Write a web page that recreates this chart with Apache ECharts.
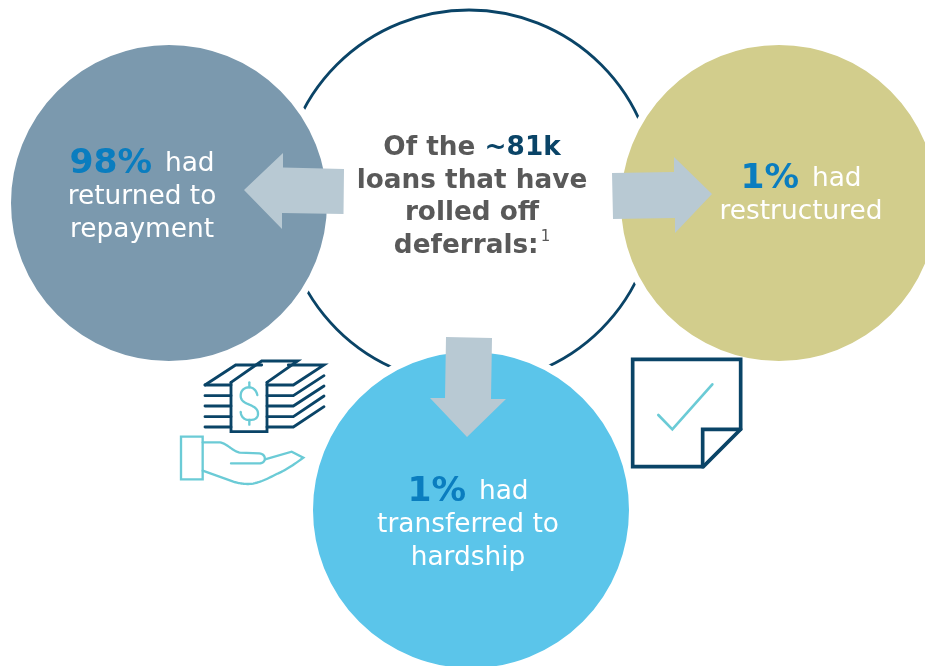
<!DOCTYPE html>
<html>
<head>
<meta charset="utf-8">
<style>html,body{margin:0;padding:0;background:#fff}#c{width:925px;height:666px}</style>
<script src="https://cdn.jsdelivr.net/npm/echarts@6/dist/echarts.min.js"></script>
</head>
<body>
<div id="c"></div>
<script>
// --- data ---
const outcomes = ['returned to repayment', 'restructured', 'transferred to hardship'];
const outcomeShares = [98, 1, 1];
const outcomeLines = [['had'], ['had'], ['had']];
const outcomeRest = [['returned to', 'repayment'], ['restructured'], ['transferred to', 'hardship']];
const totalLoans = '~81k';

// --- layout (canvas pixels on hidden axes) ---
const ringCentre = [469, 197];
const circleCentres = [[169, 203], [779, 203], [471, 510]];
const circleColours = ['#7b99ae', '#d2cd8c', '#5bc5ea'];
const textCentres = [[142, 197], [801, 196], [468, 525]];
const NAVY = '#0a4467', TEAL = '#6bcbd6', ARROW = '#b8c9d3', ACCENT = '#0a7dbf', GREY = '#595959';
const FONT = '"DejaVu Sans", Verdana, sans-serif';

const arrowLeft = [[244,190],[283,153],[283,167.5],[344,169],[343.5,214],[282,213],[282,229]];
const arrowRight = [[612,173],[674,172],[674,157],[712,194],[675,233],[675,218],[613,219]];
const arrowDown = [[446,337],[492,338],[491,399],[506,399],[467,437],[430,398],[445,398]];

const outcomeLabels = outcomes.map((name, i) => ({
  name,
  value: textCentres[i],
  label: {
    show: true, position: 'inside', align: 'center', verticalAlign: 'middle', opacity: 1,
    formatter: '{pct|' + outcomeShares[i] + '%}{sp| }{w|' + outcomeLines[i][0] + '}\n' +
      outcomeRest[i].map(t => '{w|' + t + '}').join('\n'),
    rich: {
      pct: { fontFamily: FONT, fontWeight: 'bold', fontSize: 34.5, color: ACCENT, lineHeight: 33 },
      sp: { fontFamily: FONT, fontSize: 12, width: 13, lineHeight: 33 },
      w: { fontFamily: FONT, fontSize: 26.4, color: '#fff', lineHeight: 33 }
    }
  }
}));

const moneyNavy = [
  'M105 105 L197 45 L275 45', 'M105 105 L183 105',
  'M183 97 L275 33 L383 33 L291 97', 'M183 97 L183 245 L291 245 L291 97',
  'M291 105 L370 105 L462 45 L355 45',
  'M105 137 L183 137', 'M291 137 L370 137 L462 77',
  'M105 168 L183 168', 'M291 168 L370 168 L462 108',
  'M105 200 L183 200', 'M291 200 L370 200 L462 138',
  'M105 231 L183 231', 'M291 231 L370 231 L462 170'
];
const moneyTeal = [
  'M262 135 C258 118 247 112 238 112 C222 112 212 122 212 137 C212 152 224 158 238 164 C252 170 264 176 264 191 C264 206 252 210 238 210 C226 210 214 204 212 186',
  'M238 97 L238 112', 'M238 210 L238 224',
  'M33 260 L98 260 L98 388 L33 388 Z',
  'M98 277 L150 277 C170 280 190 305 210 308 L268 310 C290 312 290 340 268 340 L183 340',
  'M285 328 L365 305 L400 323 C370 345 345 362 320 372 C290 388 260 402 235 402 C215 402 200 398 190 395 L98 362'
];
const docNavy = [
  'M38 28 L362 28 L362 238 L250 350 L38 350 Z',
  'M248 350 L248 238 L362 238'
];
const docTeal = ['M115 195 L157 238 L277 103'];

// flatten a small M/L/C/Z outline into polyline points
function flatten(d) {
  const t = d.match(/[MLCZ]|-?[\d.]+/g);
  const pts = [];
  let i = 0, closed = false;
  while (i < t.length) {
    const c = t[i++];
    if (c === 'M' || c === 'L') { pts.push([+t[i], +t[i + 1]]); i += 2; }
    else if (c === 'C') {
      const p0 = pts[pts.length - 1];
      const a = [+t[i], +t[i + 1]], b = [+t[i + 2], +t[i + 3]], e = [+t[i + 4], +t[i + 5]];
      i += 6;
      for (let k = 1; k <= 16; k++) {
        const u = k / 16, v = 1 - u;
        pts.push([0, 1].map(j => v*v*v*p0[j] + 3*v*v*u*a[j] + 3*v*u*u*b[j] + u*u*u*e[j]));
      }
    } else if (c === 'Z') { closed = true; }
  }
  return { pts, closed };
}
const pathEl = (d, color, lw, z) => {
  const f = flatten(d);
  return {
    type: f.closed ? 'polygon' : 'polyline', z,
    shape: { points: f.pts },
    style: { fill: null, stroke: color, lineWidth: lw, lineJoin: 'miter', lineCap: 'round' }
  };
};
const arrowEl = pts => ({
  type: 'polygon', z: 10, shape: { points: pts }, style: { fill: ARROW }
});

const chart = echarts.init(document.getElementById('c'));
chart.setOption({
  animation: false,
  backgroundColor: '#fff',
  grid: { left: 0, right: 0, top: 0, bottom: 0 },
  xAxis: { type: 'value', min: 0, max: 925, show: false },
  yAxis: { type: 'value', min: 0, max: 666, inverse: true, show: false },
  series: [
    {
      type: 'scatter', z: 1, silent: true,
      symbol: 'circle', symbolSize: 374,
      itemStyle: { color: '#fff', opacity: 1, borderColor: NAVY, borderWidth: 2.8 },
      data: [ringCentre]
    },
    {
      type: 'scatter', z: 2, silent: true,
      symbol: 'circle', symbolSize: 323,
      itemStyle: { opacity: 1, borderColor: '#fff', borderWidth: 7 },
      data: circleCentres.map((c, i) => ({ name: outcomes[i], value: c, itemStyle: { color: circleColours[i] } }))
    },
    {
      type: 'scatter', z: 5, silent: true,
      symbolSize: 1, itemStyle: { color: 'transparent', opacity: 1 },
      data: outcomeLabels
    },
    {
      type: 'scatter', z: 5, silent: true,
      symbolSize: 1, itemStyle: { color: 'transparent', opacity: 1 },
      data: [{
        value: [472, 197],
        label: {
          show: true, position: 'inside', align: 'center', verticalAlign: 'middle', opacity: 1,
          formatter: '{g|Of the }{n|' + totalLoans + '}\n{g|loans that have}\n{g|rolled off}\n{g|deferrals:}{s|1}',
          rich: {
            g: { fontFamily: FONT, fontWeight: 'bold', fontSize: 26.3, color: GREY, lineHeight: 32.5 },
            n: { fontFamily: FONT, fontWeight: 'bold', fontSize: 26.3, color: NAVY, lineHeight: 32.5 },
            s: { fontFamily: FONT, fontSize: 15, color: GREY, lineHeight: 32.5, verticalAlign: 'top', padding: [0, 0, 6, 2] }
          }
        }
      }]
    }
  ],
  graphic: [
    arrowEl(arrowLeft), arrowEl(arrowRight), arrowEl(arrowDown),
    {
      type: 'group', x: 170, y: 350, scaleX: 1 / 3, scaleY: 1 / 3, z: 10,
      children: moneyNavy.map(d => pathEl(d, NAVY, 8.5, 11)).concat(moneyTeal.map(d => pathEl(d, TEAL, 7, 11)))
    },
    {
      type: 'group', x: 620, y: 350, scaleX: 1 / 3, scaleY: 1 / 3, z: 10,
      children: docNavy.map(d => pathEl(d, NAVY, 11, 11)).concat(docTeal.map(d => pathEl(d, TEAL, 8, 11)))
    }
  ]
});
</script>
</body>
</html>
